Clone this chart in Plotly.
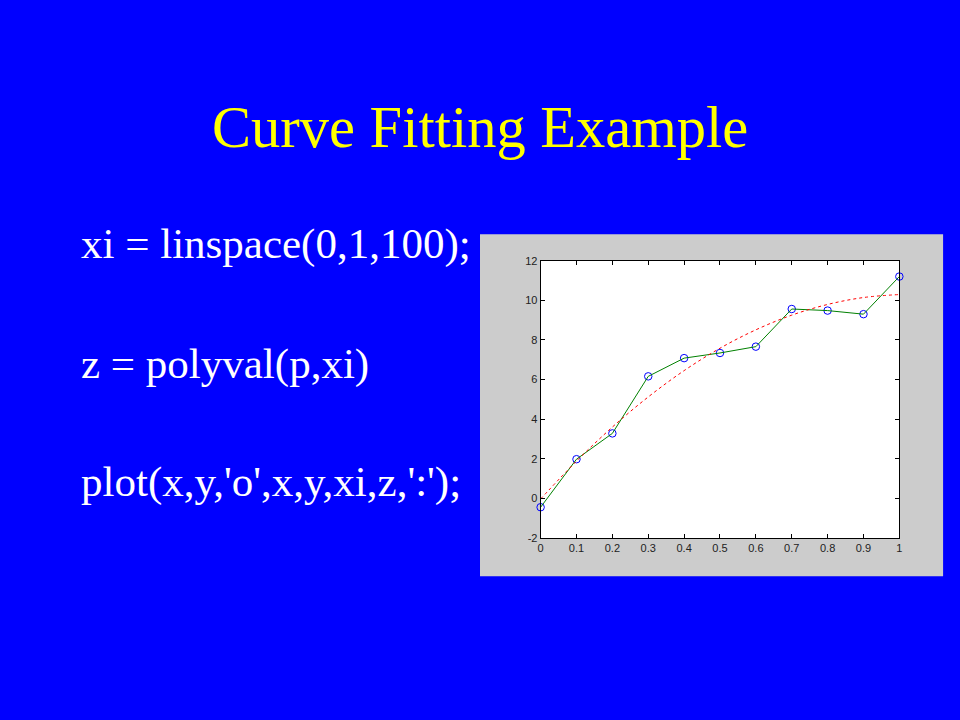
import plotly.graph_objects as go

# ---- data ----
x = [0, 0.1, 0.2, 0.3, 0.4, 0.5, 0.6, 0.7, 0.8, 0.9, 1.0]
y = [-0.447, 1.978, 3.28, 6.16, 7.08, 7.34, 7.66, 9.56, 9.48, 9.30, 11.2]
# fitted quadratic curve read at the same x positions
z = [-0.03, 1.88, 3.60, 5.12, 6.45, 7.58, 8.51, 9.25, 9.79, 10.14, 10.29]

xtick_vals = [0, 0.1, 0.2, 0.3, 0.4, 0.5, 0.6, 0.7, 0.8, 0.9, 1.0]
xtick_text = ["0", "0.1", "0.2", "0.3", "0.4", "0.5", "0.6", "0.7", "0.8", "0.9", "1"]
ytick_vals = [-2, 0, 2, 4, 6, 8, 10, 12]
ytick_text = ["-2", "0", "2", "4", "6", "8", "10", "12"]

title_text = "Curve Fitting Example"
code_lines = ["xi = linspace(0,1,100);", "z = polyval(p,xi)", "plot(x,y,'o',x,y,xi,z,':');"]

W, H = 960, 720

fig = go.Figure()
fig.add_trace(go.Scatter(x=x, y=y, mode="markers",
                         marker=dict(symbol="circle-open", size=7.5, color="#0000FF",
                                     line=dict(width=1, color="#0000FF")),
                         showlegend=False, hoverinfo="skip", cliponaxis=False))
fig.add_trace(go.Scatter(x=x, y=y, mode="lines",
                         line=dict(color="#008000", width=1),
                         showlegend=False, hoverinfo="skip"))
fig.add_trace(go.Scatter(x=x, y=z, mode="lines",
                         line=dict(color="#FF0000", width=1, dash="dot", shape="spline"),
                         showlegend=False, hoverinfo="skip"))

axis_common = dict(showgrid=False, zeroline=False, showline=True, linecolor="black",
                   linewidth=1, mirror="ticks", ticks="inside", ticklen=4,
                   tickcolor="black",
                   tickfont=dict(family="Liberation Sans, Arial", size=11, color="#222222"))

fig.update_xaxes(range=[0, 1], tickvals=xtick_vals, ticktext=xtick_text,
                 domain=[541 / W, 902 / W], **axis_common)
fig.update_yaxes(range=[-2, 12], tickvals=ytick_vals, ticktext=ytick_text,
                 domain=[1 - 541 / H, 1 - 259 / H], **axis_common)

# gray figure panel behind the axes, then white axes area
fig.add_shape(type="rect", xref="paper", yref="paper",
              x0=480 / W, x1=946 / W, y0=1 - 580 / H, y1=1 - 232 / H,
              fillcolor="#CCCCCC", line=dict(width=0), layer="below")
fig.add_shape(type="rect", xref="x domain", yref="y domain",
              x0=0, x1=1, y0=0, y1=1,
              fillcolor="white", line=dict(width=0), layer="below")

serif = "Liberation Serif, Times New Roman, serif"
fig.add_annotation(text=title_text, xref="paper", yref="paper",
                   x=480 / W, y=1 - (147 - 23) / H, xanchor="center", yanchor="middle",
                   showarrow=False, font=dict(family=serif, size=58.5, color="#FFFF00"))
baselines = [253, 375, 495]
for line, b in zip(code_lines, baselines):
    fig.add_annotation(text=line, xref="paper", yref="paper",
                       x=76 / W, y=1 - (b - 11) / H, xanchor="left", yanchor="middle",
                       showarrow=False, font=dict(family=serif, size=43, color="white"))

fig.update_layout(width=W, height=H, margin=dict(l=0, r=0, t=0, b=0),
                  paper_bgcolor="#0000FF", plot_bgcolor="white")

fig.write_html("out.html", config={"displayModeBar": False},
               post_script="document.body.style.margin='0';document.body.style.overflow='hidden';")
